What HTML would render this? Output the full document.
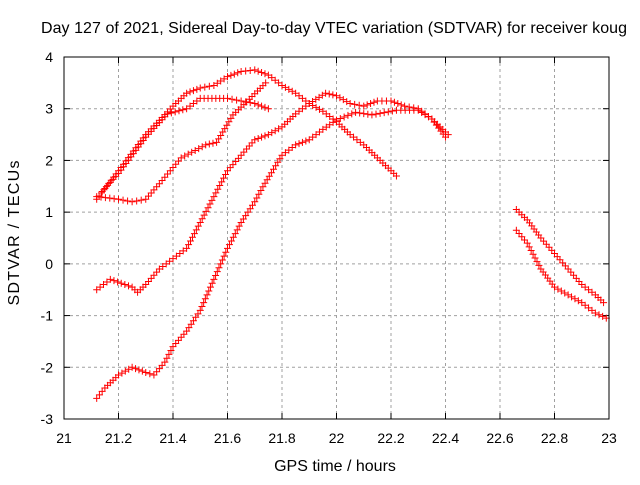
<!DOCTYPE html>
<html><head><meta charset="utf-8"><style>
body{margin:0;background:#fff;}
svg text{font-family:"Liberation Sans",sans-serif;font-size:14px;fill:#000;}
svg text.t{font-size:16px;}
</style></head><body>
<svg id="c" width="640" height="480">
<rect width="640" height="480" fill="#fff"/>
<text class="t" x="334" y="33" text-anchor="middle" textLength="586">Day 127 of 2021, Sidereal Day-to-day VTEC variation (SDTVAR) for receiver koug</text>
<text class="t" x="335" y="471" text-anchor="middle">GPS time / hours</text>
<text class="t" transform="translate(19,233) rotate(-90)" text-anchor="middle" textLength="145">SDTVAR / TECUs</text>
<g id="grid"></g><g id="ticks"></g><g id="marks"></g>
<rect x="64" y="57" width="545" height="362" fill="none" stroke="#000"/>
</svg>
<script>
const xTicks=[21,21.2,21.4,21.6,21.8,22,22.2,22.4,22.6,22.8,23];
const xTickLabels=["21","21.2","21.4","21.6","21.8","22","22.2","22.4","22.6","22.8","23"];
const yTicks=[-3,-2,-1,0,1,2,3,4];
const yTickLabels=["-3","-2","-1","0","1","2","3","4"];
const trackA=[[21.12,1.25],[21.2,1.8],[21.3,2.5],[21.4,3.05],[21.45,3.3],[21.5,3.4],[21.55,3.45],[21.6,3.62],[21.65,3.72],[21.7,3.75],[21.75,3.65],[21.8,3.45],[21.85,3.3],[21.9,3.1],[21.95,2.95],[22.0,2.75],[22.05,2.5],[22.1,2.3],[22.15,2.05],[22.2,1.8],[22.22,1.7]];
const trackB=[[21.14,1.4],[21.2,1.75],[21.3,2.45],[21.38,2.9],[21.45,3.0],[21.5,3.2],[21.6,3.2],[21.65,3.15],[21.7,3.1],[21.75,3.0]];
const trackC=[[21.12,1.3],[21.2,1.25],[21.25,1.2],[21.3,1.25],[21.35,1.55],[21.43,2.05],[21.52,2.3],[21.56,2.35],[21.62,2.88],[21.67,3.13],[21.74,3.5]];
const trackD=[[21.12,-0.5],[21.17,-0.3],[21.25,-0.45],[21.27,-0.55],[21.3,-0.4],[21.35,-0.1],[21.4,0.1],[21.45,0.3],[21.5,0.8],[21.55,1.3],[21.6,1.8],[21.65,2.1],[21.7,2.4],[21.75,2.5],[21.8,2.65],[21.85,2.9],[21.9,3.1],[21.96,3.3],[22.0,3.25],[22.05,3.1],[22.1,3.05],[22.15,3.15],[22.2,3.15],[22.25,3.05],[22.3,3.0],[22.35,2.8],[22.41,2.5]];
const trackE=[[21.12,-2.6],[21.15,-2.4],[21.2,-2.15],[21.25,-2.0],[21.3,-2.1],[21.33,-2.15],[21.37,-1.9],[21.4,-1.6],[21.45,-1.3],[21.5,-0.9],[21.55,-0.3],[21.6,0.3],[21.65,0.8],[21.7,1.2],[21.73,1.49],[21.8,2.1],[21.85,2.3],[21.9,2.4],[21.95,2.6],[22.0,2.78],[22.07,2.93],[22.13,2.88],[22.22,2.97],[22.3,2.97],[22.35,2.8],[22.4,2.45]];
const trackF=[[22.66,1.05],[22.7,0.85],[22.75,0.5],[22.8,0.2],[22.85,-0.1],[22.9,-0.4],[22.95,-0.6],[22.98,-0.75]];
const trackG=[[22.66,0.65],[22.7,0.4],[22.75,-0.1],[22.8,-0.45],[22.85,-0.6],[22.9,-0.75],[22.95,-0.95],[22.99,-1.05]];
const tracks=[trackA,trackB,trackC,trackD,trackE,trackF,trackG];
const NS="http://www.w3.org/2000/svg";
const X=v=>64+(v-21)/2*545, Y=v=>419-(v+3)/7*362;
const grid=document.getElementById('grid'),ticks=document.getElementById('ticks'),marks=document.getElementById('marks');
function mk(tag,attrs,parent){const e=document.createElementNS(NS,tag);for(const k in attrs)e.setAttribute(k,attrs[k]);parent.appendChild(e);return e;}
xTicks.forEach((t,i)=>{const x=X(t);
 if(i>0&&i<xTicks.length-1){const g=mk('line',{x1:x,x2:x,y1:57,y2:419,stroke:'#a0a0a0','stroke-dasharray':'3,3'},grid);}
 mk('line',{x1:x,x2:x,y1:419,y2:413,stroke:'#000'},ticks);mk('line',{x1:x,x2:x,y1:57,y2:63,stroke:'#000'},ticks);
 const l=mk('text',{x:x,y:443,'text-anchor':'middle'},ticks);l.textContent=xTickLabels[i];
 
 });
yTicks.forEach((t,i)=>{const y=Y(t);
 if(i>0&&i<yTicks.length-1){const g=mk('line',{x1:64,x2:609,y1:y,y2:y,stroke:'#a0a0a0','stroke-dasharray':'3,3'},grid);}
 mk('line',{x1:64,x2:70,y1:y,y2:y,stroke:'#000'},ticks);mk('line',{x1:609,x2:603,y1:y,y2:y,stroke:'#000'},ticks);
 const l=mk('text',{x:53,y:y+5,'text-anchor':'end'},ticks);l.textContent=yTickLabels[i];
 
 });
tracks.forEach((tr,ti)=>{
 const g=mk('g',{},marks);
 
 
 let d='';
 for(let i=0;i<tr.length-1;i++){
  const x1=X(tr[i][0]),y1=Y(tr[i][1]),x2=X(tr[i+1][0]),y2=Y(tr[i+1][1]);
  const n=Math.max(1,Math.round(Math.hypot(x2-x1,y2-y1)/4));
  for(let k=0;k<n;k++){const x=x1+(x2-x1)*k/n,y=y1+(y2-y1)*k/n;d+=`M${x-3.5},${y}h7M${x},${y-3.5}v7`;}
 }
 const last=tr[tr.length-1];const lx=X(last[0]),ly=Y(last[1]);d+=`M${lx-3.5},${ly}h7M${lx},${ly-3.5}v7`;
 mk('path',{d:d,stroke:'#f00','stroke-width':1,fill:'none'},g);
});
</script>
</body></html>
